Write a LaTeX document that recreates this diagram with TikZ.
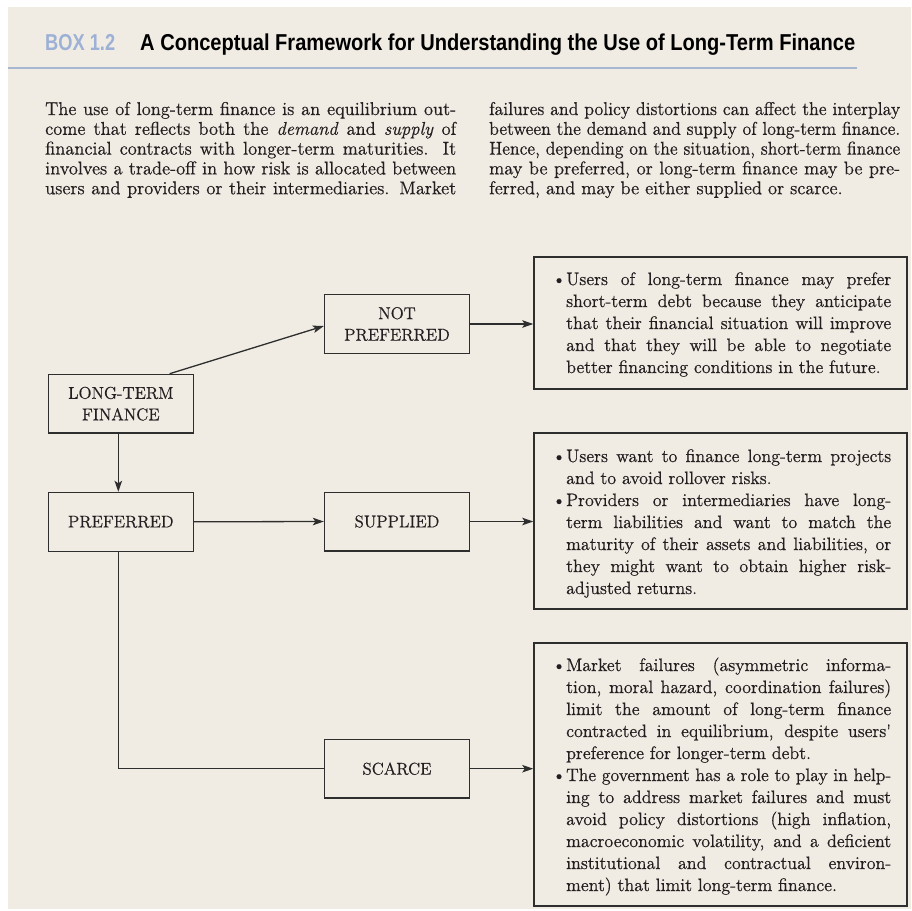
\documentclass[tikz,border=0pt]{standalone}
\usepackage{fontspec}
\usepackage{graphicx}
\usetikzlibrary{arrows.meta}
\newfontfamily\headfont{Liberation Sans}
\newfontfamily\serifA{lmroman12}[Extension=.otf,UprightFont=*-regular,ItalicFont=*-italic,BoldFont=*-bold,FakeBold=0.6]
\definecolor{panel}{HTML}{F0ECE3}
\definecolor{rulec}{HTML}{A7B7D2}
\definecolor{boxno}{HTML}{9DB1D6}
\definecolor{ink}{HTML}{231F20}
\definecolor{linec}{HTML}{2E2E2E}
\newsavebox\jlbox
\newcommand{\jl}[2]{\hbox{\sbox\jlbox{#2}\ifdim\wd\jlbox>#1\relax\resizebox{#1}{\height}{\usebox\jlbox}\else\hbox to #1{#2}\fi}}
\newcommand{\bfirst}[1]{\hbox{\hbox to 14pt{\textbullet\hss}\jl{325pt}{#1}}}
\newcommand{\bcont}[1]{\hbox{\hskip14pt\jl{325pt}{#1}}}
\newcommand{\blast}[1]{\hbox{\hskip14pt #1}}
\tikzset{
  flowbox/.style={draw=linec, line width=1.3pt, minimum width=145pt, minimum height=58.7pt, inner sep=0pt, align=center, text=ink, font=\serifA\fontsize{17}{21.5}\selectfont},
  infobox/.style={draw=linec, line width=1.5pt, inner sep=0pt, minimum width=373pt},
  conn/.style={draw=linec, line width=1.3pt},
  arr/.style={conn, -{Stealth[length=11pt,width=7.5pt,inset=2.5pt]}},
  bodytext/.style={anchor=base west, inner sep=0pt, text=ink, font=\serifA\fontsize{18.5}{19.8}\selectfont},
  boxtext/.style={anchor=base west, inner sep=0pt, text=ink, font=\serifA\fontsize{18}{22}\selectfont},
}
\begin{document}
\begin{tikzpicture}[x=1pt,y=-1pt]
\useasboundingbox (0,0) rectangle (911,911);
\fill[panel] (8,7) rectangle (911,909);
\draw[rulec, line width=2pt] (8,67.5) -- (857,67.5);
\node[anchor=base west, inner sep=0pt, text=boxno, font=\headfont\bfseries\fontsize{23}{23}\selectfont] (boxlabel) at (45,50.5) {\resizebox{70pt}{\height}{BOX 1.2}};
\node[anchor=base west, inner sep=0pt, text=black, font=\headfont\bfseries\fontsize{23}{23}\selectfont] (title) at (140,50.5) {\resizebox{715pt}{\height}{A Conceptual Framework for Understanding the Use of Long-Term Finance}};

\node[bodytext] (colL) at (45,115) {\vtop{\baselineskip=19.8pt
\jl{411pt}{The use of long-term finance is an equilibrium out-}
\jl{411pt}{come that reflects both the \emph{demand} and \emph{supply} of}
\jl{411pt}{financial contracts with longer-term maturities. It}
\jl{411pt}{involves a trade-off in how risk is allocated between}
\jl{411pt}{users and providers or their intermediaries. Market}}};
\node[bodytext] (colR) at (489,115) {\vtop{\baselineskip=19.8pt
\jl{411pt}{failures and policy distortions can affect the interplay}
\jl{411pt}{between the demand and supply of long-term finance.}
\jl{411pt}{Hence, depending on the situation, short-term finance}
\jl{411pt}{may be preferred, or long-term finance may be pre-}
\hbox{ferred, and may be either supplied or scarce.}}};

\node[flowbox] (lt) at (120.8,403.7) {LONG-TERM\\FINANCE};
\node[flowbox] (pref) at (120.8,521.8) {PREFERRED};
\node[flowbox] (notp) at (397,324) {NOT\\PREFERRED};
\node[flowbox] (supp) at (397,521.5) {SUPPLIED};
\node[flowbox] (scarce) at (397,768.7) {SCARCE};

\node[infobox, minimum height=132pt] (r1) at (720.5,323) {};
\node[infobox, minimum height=176pt] (r2) at (720.5,521) {};
\node[infobox, minimum height=263pt] (r3) at (720.5,774.5) {};

\node[boxtext] (t1) at (552,285) {\vtop{\baselineskip=22pt
\bfirst{Users of long-term finance may prefer}
\bcont{short-term debt because they anticipate}
\bcont{that their financial situation will improve}
\bcont{and that they will be able to negotiate}
\blast{better financing conditions in the future.}}};
\node[boxtext] (t2) at (552,462) {\vtop{\baselineskip=22pt
\bfirst{Users want to finance long-term projects}
\blast{and to avoid rollover risks.}
\bfirst{Providers or intermediaries have long-}
\bcont{term liabilities and want to match the}
\bcont{maturity of their assets and liabilities, or}
\bcont{they might want to obtain higher risk-}
\blast{adjusted returns.}}};
\node[boxtext] (t3) at (552,671) {\vtop{\baselineskip=22pt
\bfirst{Market failures (asymmetric informa-}
\bcont{tion, moral hazard, coordination failures)}
\bcont{limit the amount of long-term finance}
\bcont{contracted in equilibrium, despite users'}
\blast{preference for longer-term debt.}
\bfirst{The government has a role to play in help-}
\bcont{ing to address market failures and must}
\bcont{avoid policy distortions (high inflation,}
\bcont{macroeconomic volatility, and a deficient}
\bcont{institutional and contractual environ-}
\blast{ment) that limit long-term finance.}}};

\draw[arr] ([xshift=122pt]lt.north west) -- ([yshift=-2pt]notp.west);
\draw[arr] ([xshift=-2.5pt]lt.south) -- ([xshift=-2.5pt]pref.north);
\draw[arr] (pref.east) -- (supp.west);
\draw[arr] (notp.east) -- (notp.east -| r1.west);
\draw[arr] (supp.east) -- (supp.east -| r2.west);
\draw[arr] (scarce.east) -- (scarce.east -| r3.west);
\draw[conn] ([xshift=-2.5pt]pref.south) |- (scarce.west);
\end{tikzpicture}
\end{document}
